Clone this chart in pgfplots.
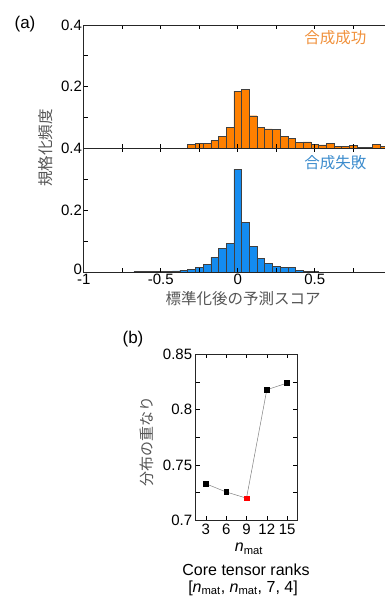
\documentclass[border=0pt]{standalone}
\usepackage{fontspec}
\setmainfont{Liberation Sans}
\newfontfamily\jp{Noto Sans CJK JP}
\usepackage{pgfplots}
\pgfplotsset{compat=1.18}
\definecolor{barorange}{RGB}{255,128,0}
\definecolor{barblue}{RGB}{20,140,240}
\definecolor{txtorange}{RGB}{240,145,60}
\definecolor{txtblue}{RGB}{60,140,205}
\definecolor{labgray}{RGB}{85,85,85}
\pgfplotsset{
 common/.style={scale only axis, axis on top, tick align=inside,
  major tick length=4pt, minor tick length=4pt,
  tick style={black, line width=0.6pt},
  axis line style={black!85, line width=0.8pt},
  ticklabel style={font=\fontsize{15}{18}\selectfont},
  /pgf/number format/assume math mode=true},
 hist/.style={common, xmin=-1, xmax=1, ymin=0, ymax=0.4, width=308pt,
  xtick={-1,-0.5,0,0.5,1}, minor xtick={-0.75,-0.25,0.25,0.75},
  xticklabels={-1,-0.5,0,0.5,},
  ytick={0,0.2,0.4}, minor ytick={0.1,0.3},
  yticklabel style={inner sep=1.5pt}, xticklabel style={inner sep=1.5pt}}
}
\begin{document}
\begin{tikzpicture}
\path[use as bounding box, clip] (0,0) rectangle (385pt,-598pt);
% top: success
\begin{axis}[hist, at={(83.7pt,-148pt)}, anchor=south west, height=123pt,
  xticklabels={}, yticklabels={,0.2,0.4}]
\addplot[ybar, bar width=0.05, bar shift=0pt, fill=barorange, draw=black!75, line width=0.4pt] coordinates {
(-0.30,0.011)(-0.25,0.014)(-0.20,0.014)(-0.15,0.024)(-0.10,0.038)(-0.05,0.067)
(0.00,0.185)(0.05,0.190)(0.10,0.105)(0.15,0.068)(0.20,0.062)(0.25,0.060)
(0.30,0.037)(0.35,0.032)(0.40,0.018)(0.45,0.020)(0.50,0.011)(0.55,0.010)
(0.60,0.016)(0.65,0.005)(0.70,0.005)(0.75,0.008)(0.80,0.003)(0.85,0.003)
(0.90,0.011)(0.95,0.005)};
\end{axis}
% bottom: failure
\begin{axis}[hist, at={(83.7pt,-148pt)}, anchor=north west, height=124pt,
  yticklabels={\raisebox{5pt}{0},0.2,0.4}]
\addplot[ybar, bar width=0.05, bar shift=0pt, fill=barblue, draw=black!75, line width=0.4pt] coordinates {
(-0.65,0.002)(-0.60,0.001)(-0.55,0.001)(-0.50,0.002)(-0.45,0.002)(-0.40,0.004)
(-0.35,0.006)(-0.30,0.009)(-0.25,0.016)(-0.20,0.025)(-0.15,0.047)(-0.10,0.076)
(-0.05,0.092)(0.00,0.331)(0.05,0.160)(0.10,0.082)(0.15,0.045)(0.20,0.028)
(0.25,0.019)(0.30,0.014)(0.35,0.015)(0.40,0.006)(0.45,0.003)(0.50,0.001)};
\end{axis}
% panel b
\begin{axis}[common, at={(195.7pt,-520.3pt)}, anchor=south west,
  width=101.6pt, height=166pt, xmin=1.5, xmax=16.5, ymin=0.7, ymax=0.85,
  xtick={3,6,9,12,15}, ytick={0.7,0.75,0.8,0.85}, minor ytick={0.725,0.775,0.825},
  yticklabels={0.7,0.75,0.8,0.85}]
\addplot[draw=gray, line width=0.5pt, mark=square*, mark size=2.4pt, mark options={black, draw=black}] coordinates {
(3,0.733)(6,0.7256)(9,0.720)(12,0.818)(15,0.824)};
\addplot[only marks, mark=square*, mark size=2.4pt, red] coordinates {(9,0.720)};
\end{axis}
\node[font=\fontsize{17}{20}\selectfont] at (25pt,-24pt) {(a)};
\node[font=\jp\fontsize{15.5}{18}\selectfont, text=txtorange, anchor=east] at (370pt,-38pt) {合成成功};
\node[font=\jp\fontsize{15.5}{18}\selectfont, text=txtblue, anchor=east] at (370pt,-163pt) {合成失敗};
\node[rotate=90, font=\jp\fontsize{15.5}{18}\selectfont, text=labgray] at (46pt,-148pt) {規格化頻度};
\node[font=\jp\fontsize{15.5}{18}\selectfont, text=labgray] at (243pt,-299pt) {標準化後の予測スコア};
\node[font=\fontsize{17}{20}\selectfont] at (133pt,-339pt) {(b)};
\node[rotate=90, font=\jp\fontsize{15}{18}\selectfont, text=labgray] at (147pt,-441pt) {分布の重なり};
\node[font=\fontsize{16}{19}\selectfont] at (249pt,-549pt) {\textit{n}\textsubscript{mat}};
\node[font=\fontsize{16}{19}\selectfont] at (246pt,-570pt) {Core tensor ranks};
\node[font=\fontsize{16}{19}\selectfont] at (243pt,-588pt) {[\textit{n}\textsubscript{mat}, \textit{n}\textsubscript{mat}, 7, 4]};
\end{tikzpicture}
\end{document}
